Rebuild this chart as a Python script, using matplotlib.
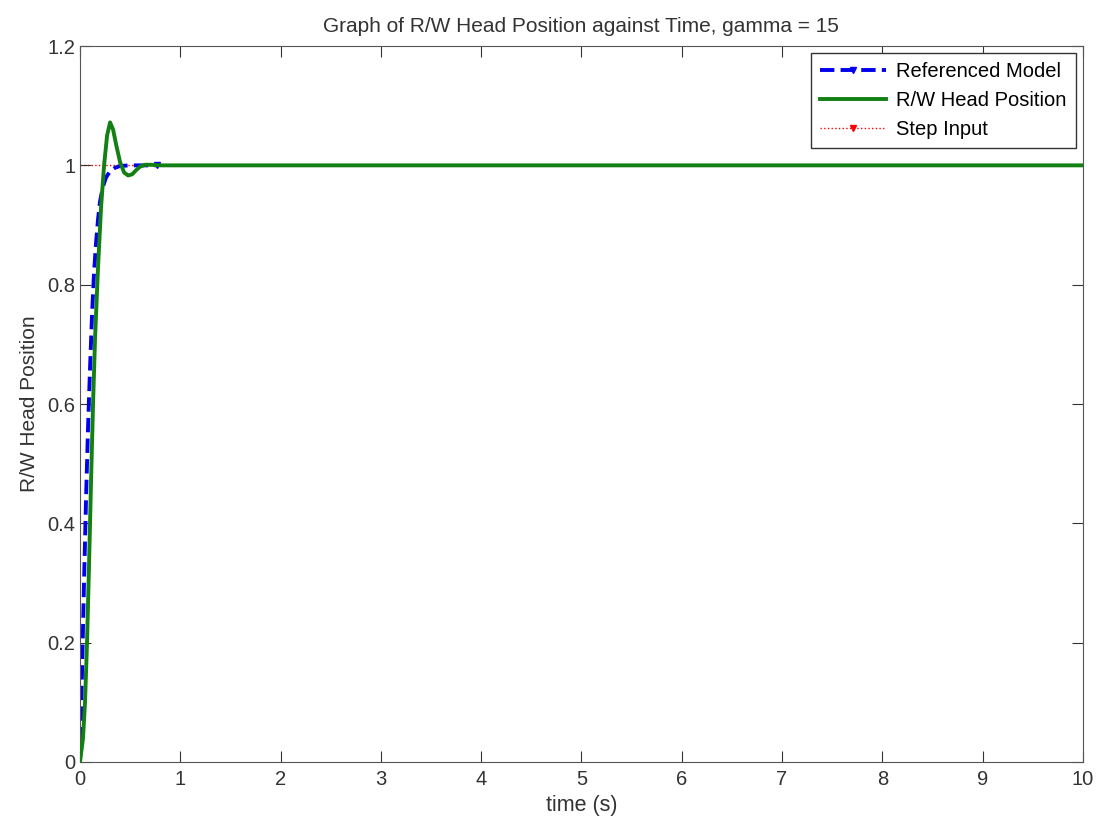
import matplotlib
matplotlib.use('Agg')
import matplotlib.pyplot as plt
from matplotlib.lines import Line2D

plt.rcParams['font.family'] = ['Liberation Sans', 'DejaVu Sans']

# referenced model response
t_ref = [0.0, 0.02, 0.04, 0.06, 0.08, 0.10, 0.12, 0.14, 0.16, 0.18, 0.20, 0.23, 0.26, 0.30, 0.35, 0.40, 0.50, 0.60, 0.77]
y_ref = [0.0, 0.15, 0.30, 0.44, 0.56, 0.66, 0.75, 0.82, 0.87, 0.91, 0.94, 0.965, 0.98, 0.99, 0.996, 0.999, 1.0, 1.0, 1.0]

# R/W head position
t_pos = [0.0, 0.03, 0.05, 0.07, 0.09, 0.11, 0.13, 0.15, 0.18, 0.21, 0.24, 0.27, 0.30, 0.33, 0.36, 0.40, 0.44, 0.48, 0.52, 0.56, 0.60, 0.65, 0.70, 0.80, 1.0, 10.0]
y_pos = [0.0, 0.04, 0.10, 0.20, 0.33, 0.47, 0.60, 0.71, 0.83, 0.93, 1.00, 1.05, 1.072, 1.06, 1.035, 1.005, 0.988, 0.983, 0.985, 0.992, 0.998, 1.001, 1.001, 1.0, 1.0, 1.0]

# step input
t_step = [0.0, 10.0]
y_step = [1.0, 1.0]

fig = plt.figure(figsize=(11.02, 8.22), dpi=100)
ax = fig.add_axes([0.0726, 0.073, 0.910, 0.871])

ax.plot(t_step, y_step, ':', color='red', lw=1.0, zorder=1)
ax.plot(t_ref, y_ref, '--', color='#0000ee', lw=2.8, marker='v', ms=4,
        markevery=[len(t_ref) - 1], zorder=2)
ax.plot(t_pos, y_pos, '-', color='#128012', lw=2.8, zorder=3)

ax.set_xlim(0, 10)
ax.set_ylim(0, 1.2)
ax.set_xticks(range(0, 11))
ax.set_yticks([0, 0.2, 0.4, 0.6, 0.8, 1, 1.2])
ax.set_yticklabels(['0', '0.2', '0.4', '0.6', '0.8', '1', '1.2'])
ax.tick_params(direction='in', top=True, right=True, labelsize=14.5, length=8, colors='#333333')
ax.tick_params(axis='x', pad=6)
for s in ax.spines.values():
    s.set_color('#555555')

ax.set_title('Graph of R/W Head Position against Time, gamma = 15', fontsize=15, color='#333333', pad=10)
ax.set_xlabel('time (s)', fontsize=15.5, color='#333333', labelpad=4)
ax.set_ylabel('R/W Head Position', fontsize=15, color='#333333', labelpad=6)

handles = [
    Line2D([], [], ls='--', color='#0000ee', lw=2.8, marker='v', ms=4),
    Line2D([], [], ls='-', color='#128012', lw=2.8),
    Line2D([], [], ls=':', color='red', lw=1.0, marker='v', ms=4),
]
labels = ['Referenced Model', 'R/W Head Position', 'Step Input']
leg = ax.legend(handles, labels, loc='upper right', fontsize=14.5,
                fancybox=False, edgecolor='#333333', framealpha=1, borderaxespad=0.35,
                handlelength=3.3, handletextpad=0.5, labelspacing=0.5, numpoints=1,
                borderpad=0.45)
leg.get_frame().set_linewidth(1.0)

fig.savefig('out.png', dpi=100)
